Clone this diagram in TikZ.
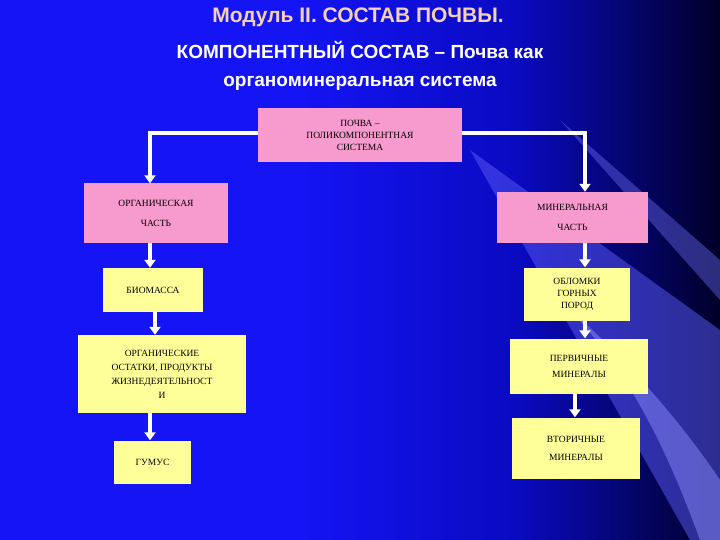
\documentclass[tikz,border=0pt]{standalone}
\usepackage{fontspec}
\usetikzlibrary{arrows.meta}
\setmainfont{Liberation Serif}
\newfontfamily\titlefont{Liberation Sans}
\begin{document}
\begin{tikzpicture}[x=1pt,y=-1pt,
  pinkbox/.style={draw=none,fill=pink1,align=center,font=\fontsize{9.5}{12}\selectfont,text=black,inner sep=0pt},
  yelbox/.style={draw=none,fill=yel1,align=center,font=\fontsize{9.5}{13}\selectfont,text=black,inner sep=0pt},
  conn/.style={draw=white,line width=3.5pt,-{Triangle[length=8pt,width=11pt]}}]
\definecolor{pink1}{HTML}{F79ACD}
\definecolor{yel1}{HTML}{FFFF99}
\definecolor{bgl}{HTML}{1414F5}
\definecolor{bgm}{HTML}{0A0AC0}
\definecolor{bgr}{HTML}{000028}
\definecolor{ttl}{HTML}{F5D0B8}
\useasboundingbox (0,0) rectangle (720,540);
\fill[bgl] (0,0) rectangle (300,540);
\shade[left color=bgl,right color=bgm] (299,0) rectangle (520,540);
\shade[left color=bgm,right color=bgr] (519,0) rectangle (720,540);
\fill[bgl!70!white,opacity=0.5] (470,150) -- (720,330) -- (720,540) -- (690,540) -- cycle;
\fill[bgl!50!white,opacity=0.5] (560,300) .. controls (650,380) and (700,450) .. (720,480) -- (720,540) -- (700,540) .. controls (660,430) and (620,360) .. (560,300);
\fill[bgl!60!white,opacity=0.4] (560,120) -- (720,260) -- (720,300) -- cycle;
\node[text=ttl,font=\titlefont\bfseries\fontsize{21}{24}\selectfont] (t1) at (358,17) {Модуль II. СОСТАВ ПОЧВЫ.};
\node[text=white,font=\titlefont\bfseries\fontsize{19}{28}\selectfont,align=center] (t2) at (360,66) {КОМПОНЕНТНЫЙ СОСТАВ – Почва как\\органоминеральная система};
\node[pinkbox,minimum width=204,minimum height=54] (top) at (360,135) {ПОЧВА –\\ПОЛИКОМПОНЕНТНАЯ\\СИСТЕМА};
\node[pinkbox,minimum width=144,minimum height=59,font=\fontsize{9.5}{20}\selectfont] (org) at (156,213) {ОРГАНИЧЕСКАЯ\\ЧАСТЬ};
\node[pinkbox,minimum width=151,minimum height=51,font=\fontsize{9.5}{20}\selectfont] (min) at (572.5,217.5) {МИНЕРАЛЬНАЯ\\ЧАСТЬ};
\node[yelbox,minimum width=100,minimum height=44] (bio) at (153,290) {БИОМАССА};
\node[yelbox,minimum width=106,minimum height=53,font=\fontsize{9.5}{12}\selectfont] (obl) at (577,294) {ОБЛОМКИ\\ГОРНЫХ\\ПОРОД};
\node[yelbox,minimum width=168,minimum height=78,font=\fontsize{9.5}{14}\selectfont] (ost) at (162,374) {ОРГАНИЧЕСКИЕ\\ОСТАТКИ, ПРОДУКТЫ\\ЖИЗНЕДЕЯТЕЛЬНОСТ\\И};
\node[yelbox,minimum width=138,minimum height=55,font=\fontsize{9.5}{16}\selectfont] (perv) at (579,366) {ПЕРВИЧНЫЕ\\МИНЕРАЛЫ};
\node[yelbox,minimum width=77,minimum height=43] (hum) at (152.5,462) {ГУМУС};
\node[yelbox,minimum width=128,minimum height=61,font=\fontsize{9.5}{18}\selectfont] (vtor) at (576,448) {ВТОРИЧНЫЕ\\МИНЕРАЛЫ};
\draw[conn] (top.west|-0,133) -| (org.north-|150,0);
\draw[conn] (top.east|-0,133) -| (min.north-|585,0);
\draw[conn] (org.south-|150,0) -- (bio.north-|150,0);
\draw[conn] (min.south-|585,0) -- (obl.north-|585,0);
\draw[conn] (bio.south-|155,0) -- (ost.north-|155,0);
\draw[conn] (obl.south-|585,0) -- (perv.north-|585,0);
\draw[conn] (ost.south-|150,0) -- (hum.north-|150,0);
\draw[conn] (perv.south-|575,0) -- (vtor.north-|575,0);
\end{tikzpicture}
\end{document}
